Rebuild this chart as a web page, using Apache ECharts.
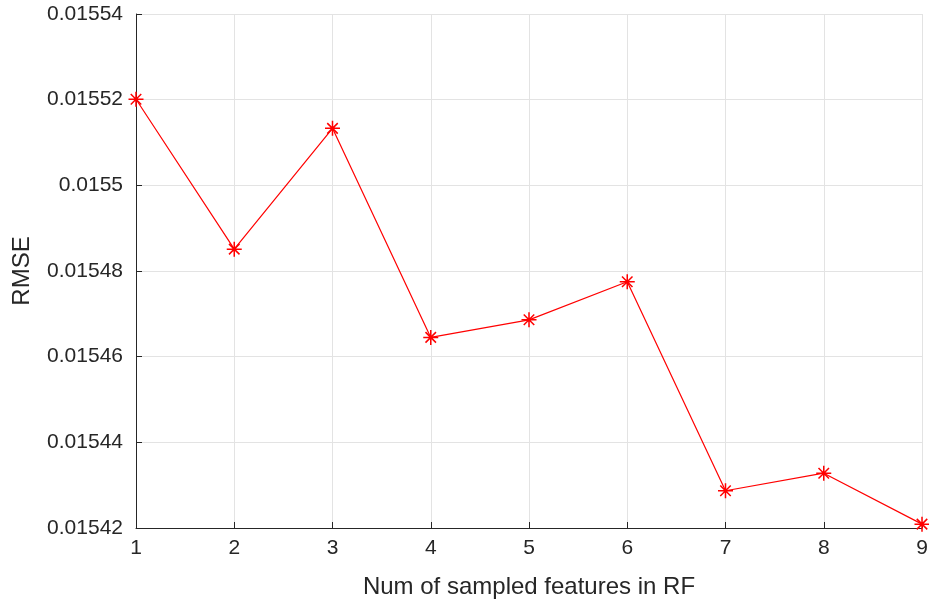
<!DOCTYPE html>
<html><head><meta charset="utf-8">
<script src="https://cdn.jsdelivr.net/npm/echarts@6/dist/echarts.min.js"></script>
<style>html,body{margin:0;padding:0;background:#fff}#c{width:929px;height:604px}</style>
</head><body><div id="c"></div>
<script>
var xValues = [1, 2, 3, 4, 5, 6, 7, 8, 9];
var rmse = [0.0155201, 0.0154851, 0.0155133, 0.0154645, 0.0154686, 0.0154775, 0.0154287, 0.0154328, 0.0154209];
var xTitle = 'Num of sampled features in RF';
var yTitle = 'RMSE';

var chart = echarts.init(document.getElementById('c'));
var font = '"Liberation Sans", Arial, Helvetica, sans-serif';
var star = 'path://M0,-6L0,6M-6,0L6,0M-4.2,-4.2L4.2,4.2M-4.2,4.2L4.2,-4.2';
chart.setOption({
  animation: false,
  grid: {left: 136, right: 7, top: 14, bottom: 76, containLabel: false, outerBoundsMode: 'none'},
  xAxis: {
    type: 'value', min: 1, max: 9, interval: 1,
    name: xTitle, nameLocation: 'middle', nameGap: 47,
    nameTextStyle: {fontFamily: font, fontSize: 24, color: '#262626'},
    axisLine: {show: true, onZero: false, lineStyle: {color: '#262626', width: 1}},
    axisTick: {show: true, inside: true, length: 6, lineStyle: {color: '#262626'}},
    axisLabel: {fontFamily: font, fontSize: 21, color: '#262626', margin: 10},
    splitLine: {show: true, lineStyle: {color: '#e3e3e3', width: 1}}
  },
  yAxis: {
    type: 'value', min: 0.01542, max: 0.01554, interval: 0.00002,
    name: yTitle, nameLocation: 'middle', nameGap: 102, nameRotate: 90,
    nameTextStyle: {fontFamily: font, fontSize: 24, color: '#262626'},
    axisLine: {show: true, lineStyle: {color: '#262626', width: 1}},
    axisTick: {show: true, inside: true, length: 6, lineStyle: {color: '#262626'}},
    axisLabel: {fontFamily: font, fontSize: 21, color: '#262626', margin: 13,
      formatter: function (v) { return parseFloat(v.toFixed(5)).toString(); }},
    splitLine: {show: true, lineStyle: {color: '#e3e3e3', width: 1}}
  },
  series: [{
    type: 'line',
    data: xValues.map(function (x, i) { return [x, rmse[i]]; }),
    symbol: star, symbolSize: 15,
    lineStyle: {color: '#ff0000', width: 1.2},
    itemStyle: {color: 'none', borderColor: '#ff0000', borderWidth: 1.5},
    clip: false
  }]
});
</script></body></html>
